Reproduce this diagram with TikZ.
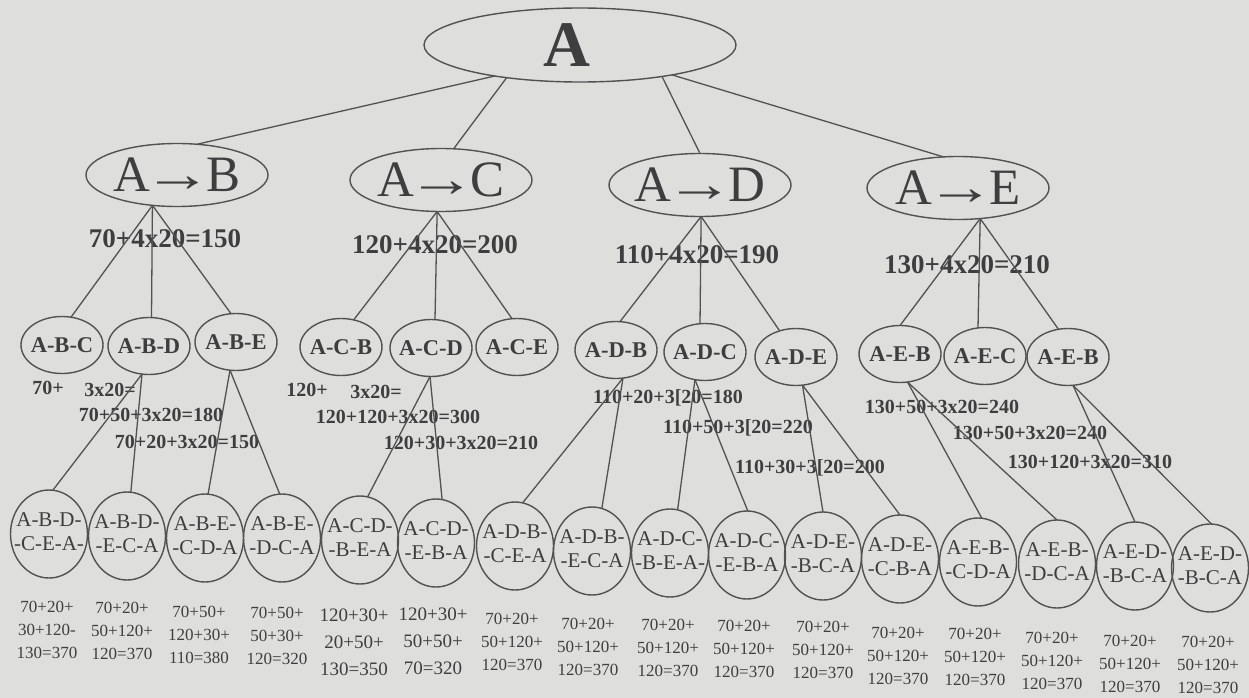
\documentclass[tikz,border=0pt]{standalone}
\usepackage{graphicx}
\usepackage{fontspec}
\setmainfont{Liberation Serif}
\usetikzlibrary{shapes.geometric}
\definecolor{bg}{RGB}{222,222,220}
\definecolor{ink}{RGB}{82,82,82}
\definecolor{txt}{RGB}{62,62,62}
\newcommand\twoline[2]{\makebox[0pt]{\raisebox{-4pt}{\begin{tabular}{@{}c@{}}#1\\#2\end{tabular}}}}
\newcommand\oneline[1]{\makebox[0pt]{#1}}
\newcommand\arw{\kern-6pt\scalebox{1.35}[1]{→}\kern-6pt}
\tikzset{
  ov/.style={ellipse, draw=ink, line width=1.4pt, inner sep=0pt, outer sep=0pt, text=txt},
  root/.style={ov, minimum width=312pt, minimum height=74pt, font=\fontsize{65}{70}\selectfont\bfseries},
  lvone/.style={ov, minimum width=182pt, minimum height=63pt, font=\fontsize{51}{56}\selectfont},
  lvtwo/.style={ov, minimum width=82pt, minimum height=57pt, font=\fontsize{22.5}{26}\selectfont\bfseries},
  leaf/.style={ov, minimum width=77pt, minimum height=88pt, font=\fontsize{21}{24}\selectfont},
  conn/.style={draw=ink, line width=1.3pt},
  cost/.style={text=txt, inner sep=0pt, font=\fontsize{27}{30}\selectfont\bfseries},
  part/.style={text=txt, inner sep=0pt, font=\fontsize{20}{24}\selectfont\bfseries},
  total/.style={text=txt, inner sep=0pt, align=center, font=\fontsize{17}{23}\selectfont},
  totalbig/.style={text=txt, inner sep=0pt, align=center, font=\fontsize{19}{27}\selectfont},
}
\begin{document}
\begin{tikzpicture}[x=1pt,y=-1pt]
\fill[bg] (0,0) rectangle (1249,698);
\useasboundingbox (0,0) rectangle (1249,698);

% root
\node[root] (A) at (580,45) {\makebox[0pt]{\kern-26pt A}};

% level 1
\node[lvone] (AB) at (177,175) {\oneline{A\arw B}};
\node[lvone] (AC) at (441,180) {\oneline{A\arw C}};
\node[lvone] (AD) at (700,185) {\oneline{A\arw D}};
\node[lvone] (AE) at (958,188) {\oneline{A\arw E}};

\node[cost] (kB) at (165,239) {70+4x20=150};
\node[cost] (kC) at (435,245) {120+4x20=200};
\node[cost] (kD) at (697,255) {110+4x20=190};
\node[cost] (kE) at (967,265) {130+4x20=210};

% level 2
\node[lvtwo] (ABC) at (62,345) {\oneline{A-B-C}};
\node[lvtwo] (ABD) at (149,346) {\oneline{A-B-D}};
\node[lvtwo] (ABE) at (236,342) {\oneline{A-B-E}};
\node[lvtwo] (ACB) at (341,347) {\oneline{A-C-B}};
\node[lvtwo] (ACD) at (431,348) {\oneline{A-C-D}};
\node[lvtwo] (ACE) at (517,347) {\oneline{A-C-E}};
\node[lvtwo] (ADB) at (616,350) {\oneline{A-D-B}};
\node[lvtwo] (ADC) at (705,352) {\oneline{A-D-C}};
\node[lvtwo] (ADE) at (796,357) {\oneline{A-D-E}};
\node[lvtwo] (AEB) at (900,354) {\oneline{A-E-B}};
\node[lvtwo] (AEC) at (985,356) {\oneline{A-E-C}};
\node[lvtwo] (AEBb) at (1068,357) {\oneline{A-E-B}};

% level 2 labels
\node[part] (pB1) at (48,388) {70+};
\node[part] (pB2) at (110,390) {3x20=};
\node[part] (pB3) at (151,415) {70+50+3x20=180};
\node[part] (pB4) at (187,442) {70+20+3x20=150};
\node[part] (pC1) at (307,390) {120+};
\node[part] (pC2) at (376,392) {3x20=};
\node[part] (pC3) at (398,417) {120+120+3x20=300};
\node[part] (pC4) at (461,443) {120+30+3x20=210};
\node[part] (pD1) at (668,398) {110+20+3[20=180};
\node[part] (pD2) at (738,428) {110+50+3[20=220};
\node[part] (pD3) at (810,468) {110+30+3[20=200};
\node[part] (pE1) at (942,407) {130+50+3x20=240};
\node[part] (pE2) at (1030,433) {130+50+3x20=240};
\node[part] (pE3) at (1090,462) {130+120+3x20=310};

% leaves
\node[leaf] (c1) at (49,534) {\twoline{A-B-D-}{-C-E-A-}};
\node[leaf] (c2) at (127,536) {\twoline{A-B-D-}{-E-C-A}};
\node[leaf] (c3) at (205,538) {\twoline{A-B-E-}{-C-D-A}};
\node[leaf] (c4) at (282,538) {\twoline{A-B-E-}{-D-C-A}};
\node[leaf] (c5) at (360,540) {\twoline{A-C-D-}{-B-E-A}};
\node[leaf] (c6) at (436,543) {\twoline{A-C-D-}{-E-B-A}};
\node[leaf] (c7) at (515,546) {\twoline{A-D-B-}{-C-E-A}};
\node[leaf] (c8) at (592,551) {\twoline{A-D-B-}{-E-C-A}};
\node[leaf] (c9) at (670,553) {\twoline{A-D-C-}{-B-E-A-}};
\node[leaf] (c10) at (747,555) {\twoline{A-D-C-}{-E-B-A}};
\node[leaf] (c11) at (823,556) {\twoline{A-D-E-}{-B-C-A}};
\node[leaf] (c12) at (900,559) {\twoline{A-D-E-}{-C-B-A}};
\node[leaf] (c13) at (978,562) {\twoline{A-E-B-}{-C-D-A}};
\node[leaf] (c14) at (1057,564) {\twoline{A-E-B-}{-D-C-A}};
\node[leaf] (c15) at (1135,566) {\twoline{A-E-D-}{-B-C-A}};
\node[leaf] (c16) at (1210,568) {\twoline{A-E-D-}{-B-C-A}};

% totals
\node[total] (t1) at (47,630) {70+20+\\30+120-\\130=370};
\node[total] (t2) at (122,631) {70+20+\\50+120+\\120=370};
\node[total] (t3) at (199,635) {70+50+\\120+30+\\110=380};
\node[total] (t4) at (277,636) {70+50+\\50+30+\\120=320};
\node[totalbig] (t5) at (354,642) {120+30+\\20+50+\\130=350};
\node[totalbig] (t6) at (433,641) {120+30+\\50+50+\\70=320};
\node[total] (t7) at (512,642) {70+20+\\50+120+\\120=370};
\node[total] (t8) at (588,647) {70+20+\\50+120+\\120=370};
\node[total] (t9) at (668,648) {70+20+\\50+120+\\120=370};
\node[total] (t10) at (744,649) {70+20+\\50+120+\\120=370};
\node[total] (t11) at (823,650) {70+20+\\50+120+\\120=370};
\node[total] (t12) at (898,656) {70+20+\\50+120+\\120=370};
\node[total] (t13) at (975,657) {70+20+\\50+120+\\120=370};
\node[total] (t14) at (1052,661) {70+20+\\50+120+\\120=370};
\node[total] (t15) at (1130,664) {70+20+\\50+120+\\120=370};
\node[total] (t16) at (1208,665) {70+20+\\50+120+\\120=370};

% connectors root -> level 1
\draw[conn] (A.200) -- (AB.57);
\draw[conn] (A.204) -- (AC.68);
\draw[conn] (A.339) -- (AD.90);
\draw[conn] (A.342) -- (AE.115);

% level 1 -> level 2
\draw[conn] (AB.231) -- (ABC.72);
\draw[conn] (AB.231) -- (ABD.85);
\draw[conn] (AB.231) -- (ABE.100);
\draw[conn] (AC.263) -- (ACB.65);
\draw[conn] (AC.263) -- (ACD.82);
\draw[conn] (AC.263) -- (ACE.100);
\draw[conn] (AD.272) -- (ADB.82);
\draw[conn] (AD.272) -- (ADC.100);
\draw[conn] (AD.272) -- (ADE.122);
\draw[conn] (AE.306) -- (AEB.90);
\draw[conn] (AE.306) -- (AEC.104);
\draw[conn] (AE.306) -- (AEBb.109);

% level 2 -> leaves
\draw[conn] (ABD.256) -- (c1.85);
\draw[conn] (ABD.256) -- (c2.85);
\draw[conn] (ABE.258) -- (c3.86);
\draw[conn] (ABE.258) -- (c4.93);
\draw[conn] (ACD.268) -- (c5.80);
\draw[conn] (ACD.268) -- (c6.82);
\draw[conn] (ADB.284) -- (c7.80);
\draw[conn] (ADB.284) -- (c8.77);
\draw[conn] (ADC.250) -- (c9.80);
\draw[conn] (ADC.250) -- (c10.89);
\draw[conn] (ADE.283) -- (c11.90);
\draw[conn] (ADE.283) -- (c12.90);
\draw[conn] (AEB.285) -- (c13.85);
\draw[conn] (AEB.285) -- (c14.90);
\draw[conn] (AEBb.280) -- (c15.90);
\draw[conn] (AEBb.280) -- (c16.88);
\end{tikzpicture}
\end{document}
